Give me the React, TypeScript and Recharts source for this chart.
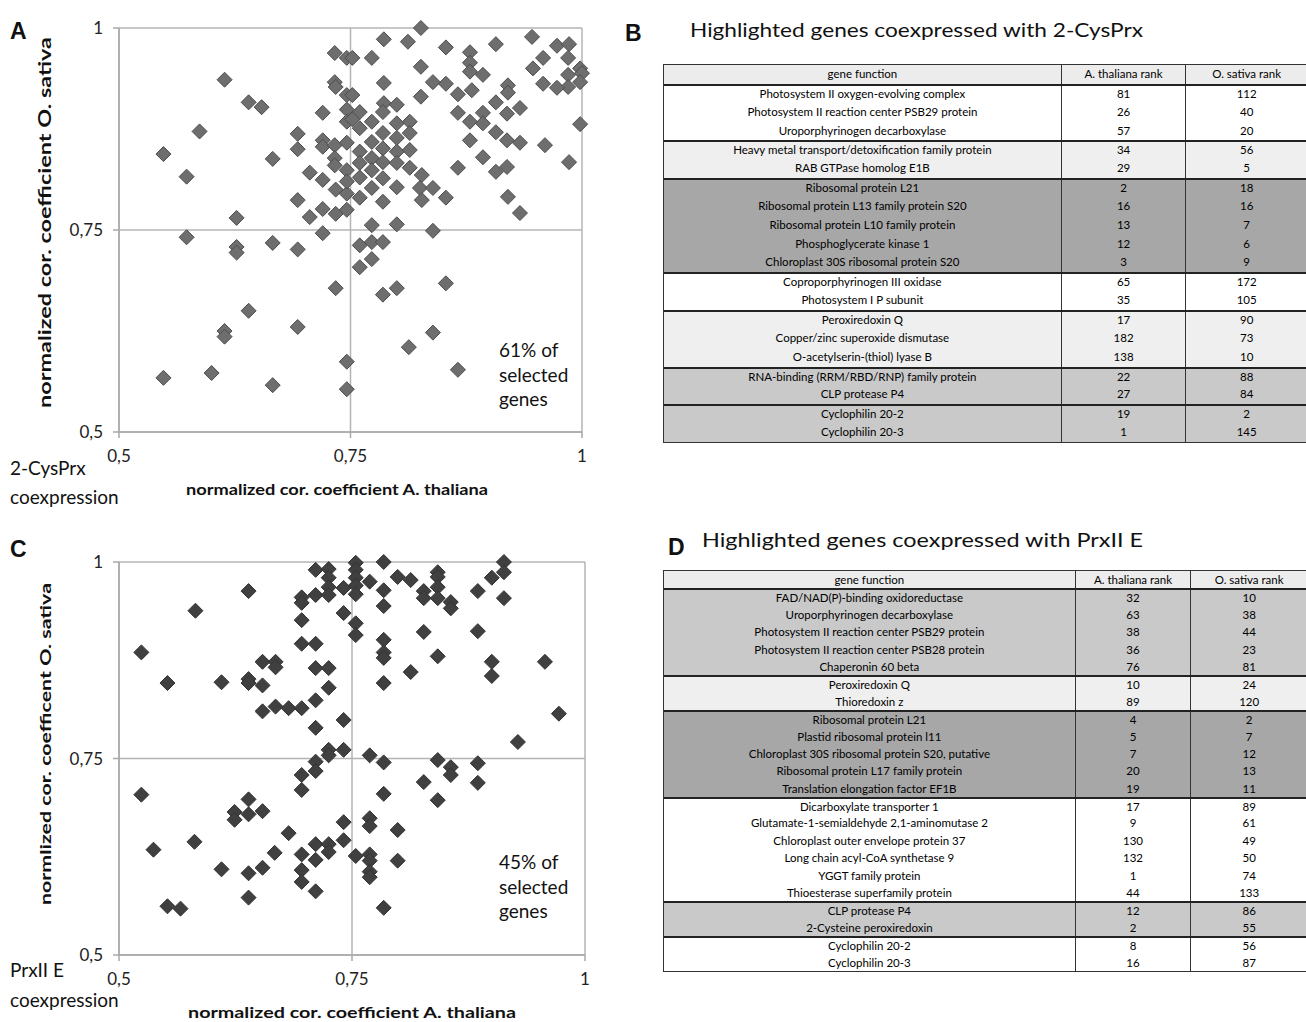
import React from "react"
import { ScatterChart, Scatter, XAxis, YAxis, CartesianGrid } from "recharts"

const axisTicks = [0.5, 0.75, 1]

// panel A: 2-CysPrx coexpression [A. thaliana, O. sativa]
const pointsA = [
  [0.614, 0.936], [0.64, 0.908], [0.654, 0.902], [0.587, 0.872], [0.548, 0.844], [0.573, 0.816],
  [0.666, 0.838], [0.693, 0.869], [0.693, 0.85], [0.706, 0.821], [0.693, 0.787], [0.706, 0.766],
  [0.72, 0.776], [0.734, 0.77], [0.627, 0.765], [0.72, 0.895], [0.733, 0.969], [0.746, 0.963],
  [0.733, 0.933], [0.734, 0.927], [0.746, 0.917], [0.746, 0.899], [0.746, 0.884], [0.72, 0.861],
  [0.72, 0.853], [0.733, 0.855], [0.746, 0.858], [0.733, 0.839], [0.733, 0.83], [0.746, 0.824],
  [0.826, 1.0], [0.786, 0.986], [0.812, 0.983], [0.853, 0.976], [0.907, 0.98], [0.946, 0.989],
  [0.973, 0.978], [0.986, 0.98], [0.985, 0.963], [0.958, 0.963], [0.947, 0.95], [0.998, 0.95],
  [1.0, 0.944], [0.985, 0.942], [0.998, 0.933], [0.985, 0.927], [0.973, 0.926], [0.958, 0.931],
  [0.998, 0.881], [0.96, 0.855], [0.986, 0.834], [0.879, 0.97], [0.879, 0.957], [0.879, 0.946],
  [0.893, 0.942], [0.881, 0.923], [0.866, 0.918], [0.853, 0.931], [0.839, 0.933], [0.826, 0.952],
  [0.786, 0.932], [0.773, 0.963], [0.752, 0.963], [0.826, 0.915], [0.92, 0.929], [0.92, 0.92],
  [0.907, 0.908], [0.933, 0.901], [0.919, 0.894], [0.866, 0.895], [0.893, 0.895], [0.879, 0.884],
  [0.893, 0.882], [0.907, 0.871], [0.919, 0.861], [0.933, 0.858], [0.879, 0.861], [0.893, 0.84],
  [0.919, 0.828], [0.907, 0.822], [0.866, 0.827], [0.92, 0.791], [0.933, 0.771],
  [0.786, 0.907], [0.8, 0.905], [0.785, 0.896], [0.76, 0.896], [0.773, 0.884], [0.8, 0.882],
  [0.814, 0.884], [0.76, 0.876], [0.785, 0.87], [0.8, 0.864], [0.814, 0.87], [0.773, 0.859],
  [0.76, 0.847], [0.785, 0.851], [0.8, 0.847], [0.814, 0.849], [0.773, 0.839], [0.785, 0.834],
  [0.8, 0.833], [0.76, 0.833], [0.773, 0.824], [0.814, 0.827], [0.827, 0.818], [0.825, 0.802],
  [0.839, 0.802], [0.785, 0.814], [0.8, 0.803], [0.773, 0.802], [0.785, 0.785], [0.827, 0.787],
  [0.853, 0.79], [0.752, 0.917], [0.752, 0.887],
  [0.72, 0.812], [0.734, 0.8], [0.746, 0.795], [0.746, 0.81], [0.76, 0.815], [0.76, 0.79], [0.746, 0.775],
  [0.773, 0.756], [0.8, 0.757], [0.839, 0.749], [0.76, 0.731], [0.773, 0.735], [0.785, 0.735],
  [0.773, 0.714], [0.76, 0.704], [0.785, 0.67], [0.8, 0.678], [0.853, 0.684], [0.839, 0.623],
  [0.813, 0.605], [0.866, 0.577],
  [0.573, 0.741], [0.627, 0.729], [0.627, 0.722], [0.666, 0.734], [0.693, 0.726], [0.72, 0.746],
  [0.734, 0.678], [0.64, 0.65], [0.614, 0.625], [0.614, 0.618], [0.693, 0.63], [0.548, 0.567],
  [0.6, 0.573], [0.666, 0.558], [0.746, 0.587], [0.746, 0.553],
]

// panel C: PrxII E coexpression
const pointsC = [
  [0.639, 0.963], [0.582, 0.938], [0.524, 0.885], [0.552, 0.846], [0.61, 0.847], [0.639, 0.851],
  [0.639, 0.846], [0.654, 0.843], [0.654, 0.873], [0.668, 0.873], [0.668, 0.866], [0.654, 0.81],
  [0.668, 0.816], [0.682, 0.814], [0.696, 0.814], [0.711, 0.824], [0.725, 0.84], [0.711, 0.865],
  [0.725, 0.865], [0.696, 0.896], [0.711, 0.896], [0.696, 0.926], [0.696, 0.955], [0.696, 0.948],
  [0.711, 0.958], [0.711, 0.99], [0.725, 0.991], [0.725, 0.98], [0.725, 0.968], [0.725, 0.958],
  [0.741, 0.967], [0.741, 0.935], [0.741, 0.799], [0.711, 0.789], [0.725, 0.761], [0.741, 0.761],
  [0.754, 0.999], [0.754, 0.99], [0.754, 0.98], [0.754, 0.97], [0.754, 0.959], [0.754, 0.922],
  [0.754, 0.907],
  [0.784, 1.0], [0.769, 0.975], [0.784, 0.964], [0.784, 0.944], [0.799, 0.981], [0.813, 0.977],
  [0.842, 0.987], [0.842, 0.981], [0.842, 0.968], [0.842, 0.954], [0.827, 0.963], [0.827, 0.954],
  [0.856, 0.949], [0.856, 0.941], [0.885, 0.963], [0.9, 0.98], [0.913, 1.0], [0.913, 0.987],
  [0.913, 0.954], [0.827, 0.911], [0.885, 0.912], [0.784, 0.901], [0.784, 0.885], [0.784, 0.878],
  [0.842, 0.88], [0.813, 0.86], [0.784, 0.846], [0.9, 0.873], [0.9, 0.855], [0.957, 0.873],
  [0.972, 0.807], [0.928, 0.771],
  [0.769, 0.754], [0.784, 0.745], [0.842, 0.748], [0.856, 0.739], [0.856, 0.729], [0.885, 0.744],
  [0.885, 0.719], [0.827, 0.72], [0.842, 0.697], [0.784, 0.705], [0.741, 0.669], [0.741, 0.646],
  [0.769, 0.674], [0.769, 0.664], [0.799, 0.659], [0.754, 0.626], [0.769, 0.628], [0.769, 0.62],
  [0.769, 0.606], [0.769, 0.599], [0.799, 0.62], [0.784, 0.56],
  [0.524, 0.704], [0.537, 0.634], [0.552, 0.562], [0.566, 0.559], [0.581, 0.644], [0.61, 0.609],
  [0.639, 0.604], [0.654, 0.611], [0.639, 0.573], [0.639, 0.698], [0.624, 0.682], [0.624, 0.672],
  [0.639, 0.679], [0.654, 0.683], [0.667, 0.63], [0.682, 0.655], [0.696, 0.628], [0.696, 0.608],
  [0.696, 0.593], [0.711, 0.641], [0.711, 0.621], [0.711, 0.581], [0.725, 0.641], [0.725, 0.631],
  [0.696, 0.729], [0.696, 0.71], [0.711, 0.746], [0.711, 0.734], [0.725, 0.754],
]

// table B
const genesB = [
  "Photosystem II oxygen-evolving complex", "Photosystem II reaction center PSB29 protein",
  "Uroporphyrinogen decarboxylase", "Heavy metal transport/detoxification family protein",
  "RAB GTPase homolog E1B", "Ribosomal protein L21", "Ribosomal protein L13 family protein S20",
  "Ribosomal protein L10 family protein", "Phosphoglycerate kinase 1",
  "Chloroplast 30S ribosomal protein S20", "Coproporphyrinogen III oxidase", "Photosystem I P subunit",
  "Peroxiredoxin Q", "Copper/zinc superoxide dismutase", "O-acetylserin-(thiol) lyase B",
  "RNA-binding (RRM/RBD/RNP) family protein", "CLP protease P4", "Cyclophilin 20-2", "Cyclophilin 20-3",
]
const athRankB = [81, 26, 57, 34, 29, 2, 16, 13, 12, 3, 65, 35, 17, 182, 138, 22, 27, 19, 1]
const osaRankB = [112, 40, 20, 56, 5, 18, 16, 7, 6, 9, 172, 105, 90, 73, 10, 88, 84, 2, 145]
const groupB = [0, 0, 0, 1, 1, 2, 2, 2, 2, 2, 3, 3, 4, 4, 4, 5, 5, 6, 6]

// table D
const genesD = [
  "FAD/NAD(P)-binding oxidoreductase", "Uroporphyrinogen decarboxylase",
  "Photosystem II reaction center PSB29 protein", "Photosystem II reaction center PSB28 protein",
  "Chaperonin 60 beta", "Peroxiredoxin Q", "Thioredoxin z", "Ribosomal protein L21",
  "Plastid ribosomal protein l11", "Chloroplast 30S ribosomal protein S20, putative",
  "Ribosomal protein L17 family protein", "Translation elongation  factor EF1B",
  "Dicarboxylate transporter 1", "Glutamate-1-semialdehyde 2,1-aminomutase 2",
  "Chloroplast outer envelope protein 37", "Long chain acyl-CoA synthetase 9", "YGGT  family protein",
  "Thioesterase superfamily protein", "CLP protease P4", "2-Cysteine peroxiredoxin",
  "Cyclophilin 20-2", "Cyclophilin 20-3",
]
const athRankD = [32, 63, 38, 36, 76, 10, 89, 4, 5, 7, 20, 19, 17, 9, 130, 132, 1, 44, 12, 2, 8, 16]
const osaRankD = [10, 38, 44, 23, 81, 24, 120, 2, 7, 12, 13, 11, 89, 61, 49, 50, 74, 133, 86, 55, 56, 87]
const groupD = [0, 0, 0, 0, 0, 1, 1, 2, 2, 2, 2, 2, 3, 3, 3, 3, 3, 3, 4, 4, 5, 5]

const tableHeader = ["gene function", "A. thaliana rank", "O. sativa rank"]

const shadeB = ["#ffffff", "#efefef", "#a7a7a7", "#ffffff", "#efefef", "#c9c9c9", "#c9c9c9"]
const shadeD = ["#c9c9c9", "#efefef", "#a7a7a7", "#ffffff", "#c9c9c9", "#ffffff"]

const font = "Lato, 'Open Sans', sans-serif"

const fmtTick = (v: number) => (v === 1 ? "1" : String(v).replace(".", ","))

const Diamond = (props: any) => {
  const { cx, cy, fill, stroke } = props
  const r = 7.5
  return (
    <polygon
      points={`${cx},${cy - r} ${cx + r},${cy} ${cx},${cy + r} ${cx - r},${cy}`}
      fill={fill}
      stroke={stroke}
      strokeWidth={1}
    />
  )
}

function CoexpPlot({ points, top, bottom, right, fill, stroke }: any) {
  const data = points.map(([x, y]: number[]) => ({ x, y }))
  return (
    <div style={{ position: "absolute", left: 0, top }}>
      <ScatterChart width={600} height={470} margin={{ top: 28, right, bottom, left: 0 }}>
        <CartesianGrid stroke="#b4b4b4" strokeWidth={1.5} />
        <XAxis
          type="number"
          dataKey="x"
          domain={[0.5, 1]}
          ticks={axisTicks}
          tickFormatter={fmtTick}
          stroke="#a8a8a8"
          strokeWidth={1.5}
          tick={{ fill: "#222", fontSize: 17, fontFamily: font }}
          tickSize={6}
          tickMargin={12}
          height={30}
        />
        <YAxis
          type="number"
          dataKey="y"
          domain={[0.5, 1]}
          ticks={axisTicks}
          tickFormatter={fmtTick}
          stroke="#a8a8a8"
          strokeWidth={1.5}
          tick={{ fill: "#222", fontSize: 17, fontFamily: font }}
          tickSize={6}
          tickMargin={10}
          width={119}
        />
        <Scatter data={data} fill={fill} stroke={stroke} shape={<Diamond />} isAnimationActive={false} />
      </ScatterChart>
    </div>
  )
}

function GeneTable({ top, rowH, cols, genes, ath, osa, groups, shades }: any) {
  const cell = (w: number, last: boolean) => ({
    width: w,
    boxSizing: "border-box" as const,
    borderRight: last ? "none" : "1.5px solid #333",
    textAlign: "center" as const,
    whiteSpace: "nowrap" as const,
    overflow: "hidden",
  })
  return (
    <div
      style={{
        position: "absolute",
        left: 663,
        top,
        width: 645,
        border: "1.5px solid #333",
        fontFamily: font,
        fontSize: 11.5,
        color: "#000",
        boxSizing: "border-box",
      }}
    >
      <div style={{ display: "flex", height: rowH, lineHeight: `${rowH}px`, background: "#ececec" }}>
        {tableHeader.map((h, j) => (
          <div key={h} style={cell(cols[j], j === 2)}>{h}</div>
        ))}
      </div>
      {genes.map((g: string, i: number) => {
        const newGroup = i === 0 || groups[i] !== groups[i - 1]
        return (
          <div
            key={i}
            style={{
              display: "flex",
              height: rowH,
              lineHeight: `${rowH - (newGroup ? 2 : 0)}px`,
              background: shades[groups[i]],
              borderTop: newGroup ? "2px solid #222" : "none",
              boxSizing: "border-box",
            }}
          >
            <div style={cell(cols[0], false)}>{g}</div>
            <div style={cell(cols[1], false)}>{ath[i]}</div>
            <div style={cell(cols[2], true)}>{osa[i]}</div>
          </div>
        )
      })}
    </div>
  )
}

export default function App() {
  const t = { fontFamily: font, fill: "#111" }
  return (
    <div style={{ position: "absolute", left: 0, top: 0, width: 1306, height: 1022, background: "#fff", overflow: "hidden" }}>
      <CoexpPlot points={pointsA} top={0} bottom={8} right={18} fill="#6e6e6e" stroke="#4d4d4d" />
      <CoexpPlot points={pointsC} top={534} bottom={19} right={15} fill="#404040" stroke="#333" />

      <GeneTable top={64} rowH={18.85} cols={[399, 125, 121]} genes={genesB} ath={athRankB} osa={osaRankB} groups={groupB} shades={shadeB} />
      <GeneTable top={570} rowH={17.4} cols={[413, 116, 116]} genes={genesD} ath={athRankD} osa={osaRankD} groups={groupD} shades={shadeD} />

      <svg width={1306} height={1022} style={{ position: "absolute", left: 0, top: 0, pointerEvents: "none" }}>
        <g fontFamily="'Liberation Sans', Arial, sans-serif" fontWeight="bold" fontSize={23} fill="#111">
          <text x={10} y={39}>A</text>
          <text x={625} y={41}>B</text>
          <text x={10} y={557}>C</text>
          <text x={668} y={555}>D</text>
        </g>
        <text x={690} y={37} fontSize={19} textLength={453} lengthAdjust="spacingAndGlyphs" {...t}>
          Highlighted genes coexpressed with 2-CysPrx
        </text>
        <text x={702} y={547} fontSize={19} textLength={441} lengthAdjust="spacingAndGlyphs" {...t}>
          Highlighted genes coexpressed with PrxII E
        </text>

        <text x={186} y={495} fontSize={14.5} fontWeight="bold" textLength={302} lengthAdjust="spacingAndGlyphs" {...t}>
          normalized cor. coefficient A. thaliana
        </text>
        <text x={188} y={1018} fontSize={14.5} fontWeight="bold" textLength={328} lengthAdjust="spacingAndGlyphs" {...t}>
          normalized cor. coefficient A. thaliana
        </text>
        <text transform="translate(51,408) rotate(-90)" fontSize={16.5} fontWeight="bold" textLength={371} lengthAdjust="spacingAndGlyphs" {...t}>
          normalized cor. coefficient O. sativa
        </text>
        <text transform="translate(51,905) rotate(-90)" fontSize={16} fontWeight="bold" textLength={322} lengthAdjust="spacingAndGlyphs" {...t}>
          normlized cor. coefficent O. sativa
        </text>

        <g fontSize={19} {...t}>
          <text x={10} y={475}>2-CysPrx</text>
          <text x={10} y={504}>coexpression</text>
          <text x={10} y={977}>PrxII E</text>
          <text x={10} y={1007}>coexpression</text>
          <text x={499} y={357}>61% of</text>
          <text x={499} y={382}>selected</text>
          <text x={499} y={406}>genes</text>
          <text x={499} y={869}>45% of</text>
          <text x={499} y={894}>selected</text>
          <text x={499} y={918}>genes</text>
        </g>
      </svg>
    </div>
  )
}
